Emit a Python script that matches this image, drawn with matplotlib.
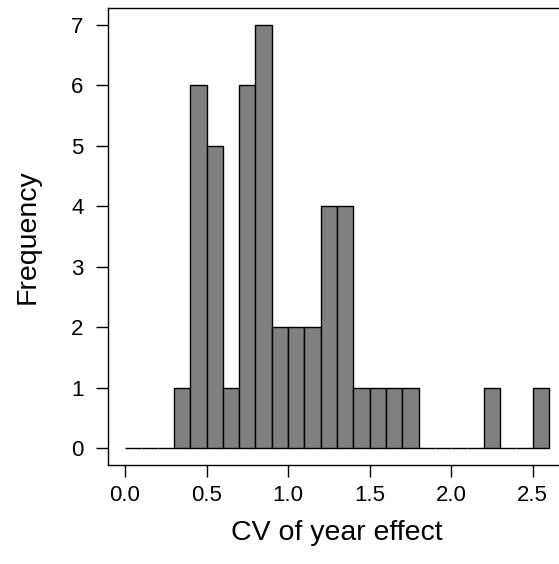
import numpy as np
import matplotlib.pyplot as plt

plt.rcParams['font.family'] = ['Liberation Sans', 'DejaVu Sans']

# histogram bins (width 0.1) and counts
bin_edges = np.round(np.arange(0, 2.61, 0.1), 2)
counts = [0, 0, 0, 1, 6, 5, 1, 6, 7, 2, 2, 2, 4, 4, 1, 1, 1, 1,
          0, 0, 0, 0, 1, 0, 0, 1]
x_ticks = [0.0, 0.5, 1.0, 1.5, 2.0, 2.5]
y_ticks = list(range(0, 8))

fig = plt.figure(figsize=(5.59, 5.64), dpi=100)
ax = fig.add_axes([108 / 559, 1 - 465 / 564, (566 - 108) / 559, (465 - 8) / 564])

ax.bar(bin_edges[:-1], counts, width=0.1, align='edge',
       color='#808080', edgecolor='black', linewidth=1.0)

ax.set_xlim(-0.104, 2.704)
ax.set_ylim(-0.28, 7.28)
ax.set_xticks(x_ticks)
ax.set_xticklabels([f"{t:.1f}" for t in x_ticks])
ax.set_yticks(y_ticks)
ax.tick_params(direction='out', length=8.5, width=1, labelsize=16, pad=6)
ax.tick_params(axis='y', pad=9)
for s in ax.spines.values():
    s.set_linewidth(1)

ax.set_xlabel("CV of year effect", fontsize=20.5, labelpad=10)
ax.set_ylabel("Frequency", fontsize=20.5, labelpad=22)

fig.savefig("out.png", dpi=100)
